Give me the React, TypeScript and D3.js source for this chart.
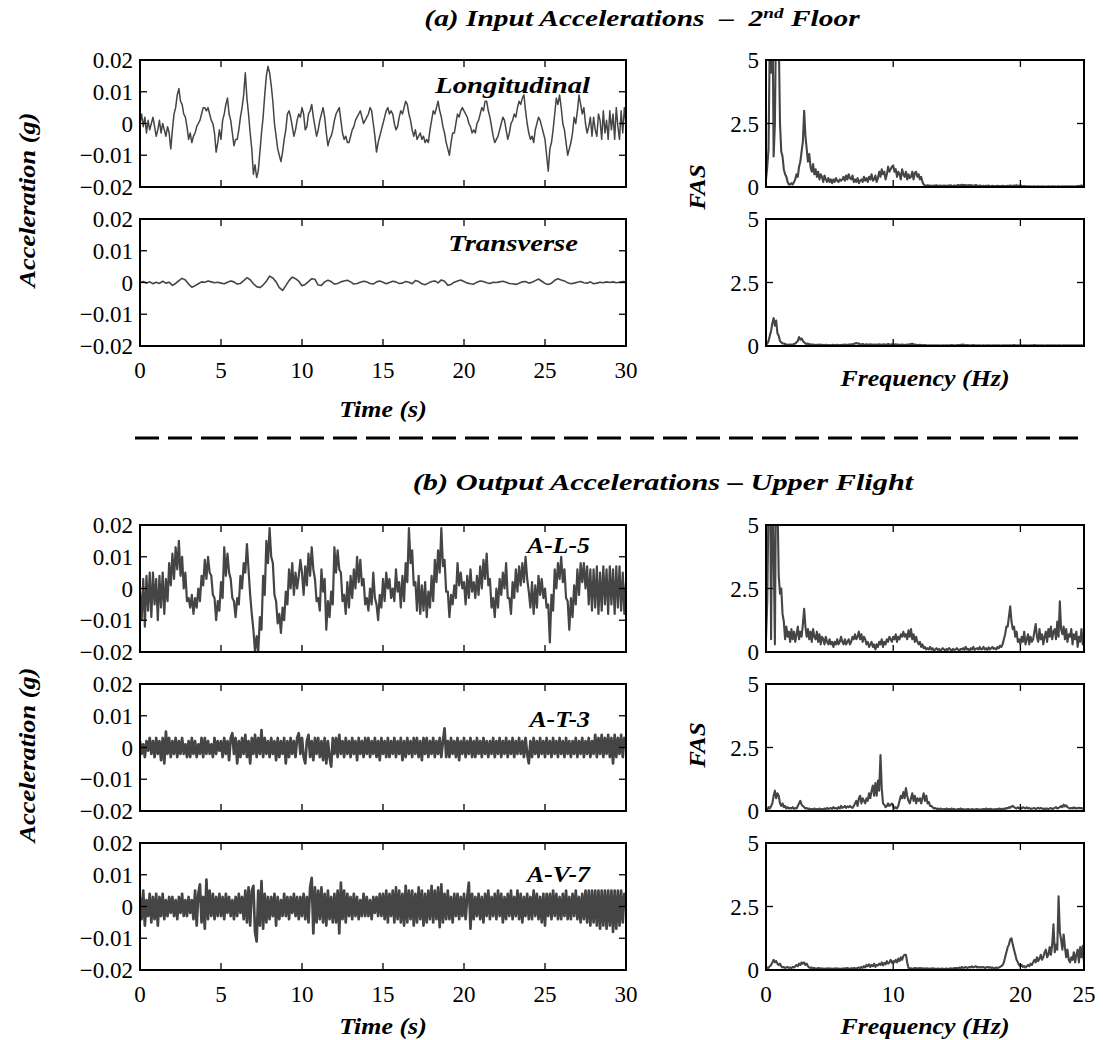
import React from "react";
import * as d3 from "d3";

// ---------- data ----------
// time histories, acceleration in milli-g, sampled every TIME_STEP seconds
const TIME_STEP = 0.1;
const LONG_MG = [
  0, 3, -1, 2, -3, 1, -2, 0, 2, -1,
  -4, -2, 1, -3, 0, -2, -4, -1, -3, -8,
  -2, 3, 5, 9, 11, 7, 6, 3, 2, -1,
  -5, -3, -6, -4, -3, -1, 0, 1, 3, 5,
  5, 4, 5, 3, 1, 0, -3, -9, -6, -2,
  -5, 1, 3, 6, 8, 3, 1, -3, -7, -5,
  -5, -2, 2, 5, 9, 16, 8, 3, -3, -8,
  -16, -13, -17, -15, -9, -3, 2, 9, 15, 18,
  16, 12, 7, 0, -4, -8, -10, -12, -9, -5,
  -2, 3, 4, 2, -1, -4, -2, 1, 3, 2,
  5, 3, -2, -1, 3, 4, 6, 2, -1, -4,
  -2, 1, 3, 5, 2, -3, -7, -5, -4, -2,
  1, 3, 4, 5, 1, -3, -5, -4, -6, -6,
  -4, -2, -1, 1, 2, 3, 4, 2, 0, 1,
  2, 3, 5, 4, 0, -4, -9, -6, -4, -2,
  0, 2, 4, 5, 3, 4, 3, 0, -2, -1,
  2, 4, 3, 5, 7, 6, 3, 1, -2, -4,
  -2, -5, -4, -3, -5, -4, -6, -5, -6, -2,
  1, 4, 3, 5, 7, 4, 2, -1, -3, -6,
  -8, -10, -6, -3, -3, 0, 3, 2, 4, 5,
  4, 3, 2, 0, -1, -3, -2, -3, 0, 1,
  3, 5, 4, 7, 7, 4, 2, -1, -4, -6,
  -5, -4, -2, 0, 2, 1, -2, -5, -3, 0,
  1, 3, 2, 5, 7, 6, 8, 9, 4, 0,
  -3, -5, -4, -6, -2, 0, 2, 1, -1, -3,
  -5, -10, -15, -8, -6, -2, 3, 8, 6, 9,
  5, 0, -2, -6, -10, -8, -6, -3, 2, 0,
  4, 9, 6, 3, 5, 0, -3, -1, 2, -4,
  2, -2, -4, 3, 1, -5, 4, -3, 1, -5,
  4, -2, 3, -5, 5, -1, -5, 4, -3, 5,
  0,
];
const TRANS_STEP = 0.2;
const TRANS_MG = [
  0, 0.3, -0.2, 0.2, -0.4,
  0.1, -0.3, 0.4, -0.2, 0.1,
  -0.9, -0.3, 0.6, 1.3, 0.8,
  -0.5, -1.5, -1.0, -0.4, 0.2,
  0.1, 0.5, 0.2, -0.1, 0.1,
  -0.2, -0.4, 0.1, 0.5, 0.2,
  -0.5, -0.3, 0.6, 1.5, 0.9,
  -0.4, -1.3, -1.6, -0.8, 0.4,
  2.0, 1.4, 0.2, -1.6, -2.5,
  -1.0, 0.6, 1.7, 1.2, 0.4,
  -1.0, -0.6, 0.3, 1.2, 1.0,
  -0.8, -0.9, 0.2, 0.7, 0.3,
  -0.5, -0.3, 0.2, 0.5, 0.7,
  0.2, -0.5, -0.3, 0.1, 0.4,
  0.2, -0.3, -0.5, 0.2, 0.5,
  0.1, -0.4, 0, 0.4, 0.2,
  -0.3, -0.2, 0.3, 0.1, -0.4,
  0.6, 0.3, -0.4, -0.7, -0.2,
  0.3, 0.5, -0.1, 0.8, 0.4,
  -0.9, -0.6, 0.1, 0.5, 0.8,
  0.3, -0.2, -0.4, -0.5, 0.1,
  0.5, 0.3, -0.1, -0.3, 0.1,
  0, 0.2, 0.4, 0.1, -0.3,
  -0.4, -0.6, -0.2, 0.2, 0.3,
  -0.2, 0.1, 0.6, 1.1, 0.4,
  -0.3, -0.6, -0.2, 0.7, 1.2,
  0.8, 0.5, -0.1, -0.4, -0.2,
  0.1, 0.3, -0.1, -0.2, 0.2,
  -0.4, -0.2, 0.1, -0.1, 0.2,
  0, 0.2, -0.1, 0.1, 0.3,
  0.2,
];
const AL5_MG = [
  -1, -10, 3, -12, 4, -7, 5, -9, 5, -5,
  3, -10, 4, -6, 5, -8, 3, -4, 8, 1,
  11, 3, 13, 6, 15, 4, 10, 0, 5, -4,
  -3, -6, -2, -8, -3, -6, 0, -4, 4, 1,
  9, 3, 10, 5, 4, -2, -3, -10, -4, -7,
  2, -3, 13, 4, 11, 5, 3, -3, -4, -9,
  -3, -5, 4, 0, 8, 5, 14, 6, -2, -8,
  -13, -20, -15, -20, -9, -13, 4, -2, 15, 8,
  19, 10, 8, -2, -4, -11, -8, -14, -6, -10,
  -1, -5, 6, 0, 8, -2, 5, 0, 4, 9,
  5, -2, 7, 1, 11, 4, 13, 6, 3, -4,
  -3, -7, 6, -1, 3, -13, -4, -9, -1, -5,
  13, 5, 12, 6, 5, -4, -2, -8, 2, -6,
  4, -3, 6, 0, 10, 2, 9, 1, 3, -5,
  -3, -7, 0, -5, 5, -3, -5, -10, -2, -6,
  3, -4, 5, 0, 3, -3, 0, -4, 6, -1,
  2, -6, 4, -4, 8, 2, 19, 8, 12, 1,
  2, -7, 4, -8, 1, -7, 2, -9, -1, -6,
  4, -4, 9, 2, 12, 5, 19, 7, 9, -1,
  -1, -9, -2, -5, 1, -3, 8, 1, 5, 0,
  2, -5, 4, -3, 6, -1, 2, -3, 4, -2,
  7, 0, 9, 3, 11, 1, 3, -6, -3, -9,
  0, -6, 3, -2, 5, 0, 8, -3, -3, -8,
  2, -3, 6, -1, 7, 1, 8, 2, 10, 3,
  -1, -6, 2, -8, 1, -6, 4, -2, 3, -3,
  0, -6, -5, -17, -2, -7, 6, 0, 8, 3,
  10, 2, 6, -3, -4, -13, -3, -9, 1, -5,
  6, -2, 8, 2, 8, 0, 7, -5, 6, -7,
  6, -6, 7, -8, 5, -7, 7, -5, 6, -8,
  7, -5, 6, -8, 7, -6, 7, -7, 5, -8,
  2,
];
const AT3_MG = [
  2, -2, 1, -3, 2, -1, 3, -2, 2, -3,
  3, -2, 2, -4, 3, -5, 5, -2, 3, -3,
  2, -2, 3, -3, 2, -2, 3, -2, 1, -3,
  2, -3, 3, -2, 2, -3, 1, -2, 3, -3,
  3, -2, 2, -2, 1, -3, 3, -2, 2, -1,
  2, -3, 3, -2, 2, -4, 3, 4.5, -2, 3,
  -5, 2, -3, 3, -2, 4, -3, 2, -5, 3,
  -2, 4, -3, 3, -2, 5.5, -3, 3, -2, 2,
  -3, 3, -2, 2, -4, 3, -3, 2, -2, 3,
  -5, 2, -3, 3, -2, 2, -3, 3, 4.5, -2,
  3, -3, -5, 2, 4, -3, 2, -4, 3, -2,
  3, -3, 2, -4, 3, -5, 2, -3, -6, 3,
  -2, 3, -3, 4, -2, 2, -3, 3, -2, 2,
  -3, 3, -2, 2, -4, 3, -2, 2, -3, 3,
  -2, 3, -3, 2, -2, 3, -3, 2, -4, 3,
  -2, 2, -3, 3, -3, 2, -2, 3, -3, 2,
  -2, 3, -4, 2, -3, 3, -2, 2, -3, 3,
  -2, 3, -3, 2, -4, 3, -2, 3, -3, 2,
  -2, 3, -3, 2, -2, 3, -3, 2, 6, -3,
  2, -3, 3, -2, 2, -3, 3, -4, 2, -2,
  3, -3, 2, -2, 3, -3, 2, -3, 3, -2,
  2, -3, 3, -2, 2, -3, 2, -2, 3, -3,
  2, -2, 3, -3, 2, -2, 3, -3, 2, -2,
  3, -3, 2, -2, 3, -2, 2, -3, 3, -2,
  -5, 2, -3, 3, -2, 2, -3, 3, -2, 2,
  -3, 3, -2, 2, -3, 3, -2, 2, -3, 3,
  -2, 2, -3, 3, -2, 2, -3, 2, -2, 3,
  -3, 2, -2, 3, -3, 2, -2, 3, -3, 2,
  -2, 4, -3, 3, -2, 4, -3, 3, -2, 4,
  -3, 3, -5, 4, -3, 3, -2, 4, -3, 3,
  0,
];
const AV7_MG = [
  3, -4, 5, -6, 2, -3, 4, -5, 3, -4,
  4, -6, 3, -3, 4, -4, 2, -3, 3, -2,
  3, -3, 2, -4, 3, -2, 4, -3, 2, -3,
  3, -2, 2, -4, 5, -6, 4, 7, -5, 3,
  -7, 8.5, -4, 5, -3, 4, -4, 3, -3, 4,
  -3, 3, -4, 4, -2, 3, -3, 2, -4, 3,
  -3, 4, -2, 3, -4, 5, -5, 6, -6, 5,
  6.5, -8, -11, 5, -6, 8, -7, 4, -5, 3,
  -4, 3, -3, 4, -6, 3, -4, 2, -3, 4,
  -3, 3, -4, 3, -2, 4, -3, 3, -4, 3,
  -3, 4, -4, 3, -5, 6, 9, -8.5, 6, -5,
  5, -4, 6, -5, 4, -6, 5, -4, 3, -5,
  4, -5, 5, -8.5, 7.5, -4, 5, -5, 4, -3,
  3, -4, 4, -3, 3, -4, 2, -3, 4, -3,
  3, -3, 2, -4, 3, -2, 3, -3, 4, -3,
  4, -4, 5, -5, 4, -3, 5, -5, 6, -4,
  5, -5, 4, -6, 6.5, -5, 5, -4, 5, -6,
  4, -5, 6, -4, 5, -6, 4, -5, 5, -4,
  6.5, -5, 5, -4, 6, -6.5, 7, -5, 4, -4,
  5, -4, 3, -5, 4, -3, 4, -4, 3, -3,
  4, -4, 3, 7.5, -7, 4, -4, 3, -3, 4,
  -4, 3, -5, 4, -3, 5, -4, 3, -3, 4,
  -4, 5, -3, 4, -5, 3, -4, 4, -3, 5,
  -4, 3, -3, 5, -4, 4, -5, 3, -3, 4,
  -4, 3, -4, 5, -3, 4, -4, 3, -5, 4,
  -6, 4, -3, 4, -4, 5, -3, 4, -4, 3,
  -4, 4, -3, 5, -4, 3, -4, 4, -3, 5,
  -4, 3, -5, 4, -4, 5, -5, 5, -6, 5,
  -5, 5, -6, 5, -7, 5, -6, 5, -7, 5,
  -6, 5, -8, 5, -7, 5, -6, 5, -5, 4,
  0,
];

// Fourier amplitude spectra, sampled every FREQ_STEP Hz from 0 to 25 Hz
const FREQ_STEP = 0.1;
const FAS_LONG = [
  0.3, 0.8, 1.5, 6, 4.5, 8, 1.2, 2.5, 7, 9,
  6, 2.5, 1.4, 1.2, 0.7, 0.5, 0.4, 0.2, 0.1, 0.1,
  0.15, 0.1, 0.2, 0.3, 0.5, 0.4, 0.8, 1.0, 1.4, 1.8,
  3.0, 2.0, 1.5, 1.0, 1.3, 0.8, 0.6, 0.9, 0.5, 0.7,
  0.4, 0.6, 0.3, 0.5, 0.4, 0.2, 0.45, 0.3, 0.2, 0.35,
  0.2, 0.3, 0.15, 0.3, 0.2, 0.35, 0.25, 0.2, 0.3, 0.25,
  0.3, 0.4, 0.25, 0.45, 0.3, 0.5, 0.35, 0.3, 0.45, 0.2,
  0.3, 0.2, 0.35, 0.15, 0.25, 0.3, 0.2, 0.4, 0.25, 0.35,
  0.2, 0.4, 0.3, 0.5, 0.25, 0.3, 0.45, 0.2, 0.35, 0.6,
  0.4, 0.7, 0.5, 0.6, 0.3, 0.5, 0.8, 0.6, 0.7, 0.8,
  0.85, 0.6, 0.7, 0.4, 0.6, 0.5, 0.3, 0.7, 0.5, 0.4,
  0.6, 0.3, 0.5, 0.35, 0.4, 0.6, 0.3, 0.55, 0.6, 0.4,
  0.5, 0.3, 0.4, 0.2, 0.1, 0.06, 0.05, 0.07, 0.04, 0.06,
  0.05, 0.04, 0.06, 0.05, 0.07, 0.04, 0.05, 0.06, 0.04, 0.05,
  0.06, 0.05, 0.04, 0.06, 0.05, 0.07, 0.05, 0.04, 0.06, 0.05,
  0.06, 0.08, 0.05, 0.07, 0.09, 0.06, 0.08, 0.05, 0.07, 0.06,
  0.08, 0.06, 0.07, 0.05, 0.06, 0.08, 0.05, 0.04, 0.06, 0.05,
  0.04, 0.05, 0.03, 0.05, 0.04, 0.06, 0.04, 0.03, 0.05, 0.04,
  0.03, 0.04, 0.05, 0.03, 0.04, 0.03, 0.05, 0.04, 0.03, 0.04,
  0.05, 0.04, 0.06, 0.05, 0.04, 0.06, 0.05, 0.07, 0.04, 0.05,
  0.06, 0.04, 0.03, 0.04, 0.03, 0.02, 0.03, 0.02, 0.03, 0.02,
  0.02, 0.03, 0.02, 0.02, 0.03, 0.02, 0.02, 0.03, 0.02, 0.02,
  0.02, 0.02, 0.03, 0.02, 0.02, 0.03, 0.02, 0.03, 0.02, 0.02,
  0.03, 0.02, 0.02, 0.03, 0.02, 0.03, 0.02, 0.03, 0.02, 0.03,
  0.02, 0.03, 0.02, 0.02, 0.03, 0.04, 0.03, 0.05, 0.06, 0.04,
  0.05,
];
const FAS_TRANS = [
  0.05, 0.1, 0.2, 0.4, 0.6, 0.9, 1.1, 0.8, 1.0, 0.5,
  0.4, 0.2, 0.15, 0.1, 0.1, 0.08, 0.06, 0.05, 0.06, 0.05,
  0.06, 0.05, 0.08, 0.1, 0.15, 0.2, 0.35, 0.25, 0.3, 0.2,
  0.15, 0.1, 0.08, 0.1, 0.06, 0.07, 0.05, 0.06, 0.05, 0.04,
  0.05, 0.04, 0.06, 0.04, 0.05, 0.04, 0.03, 0.05, 0.04, 0.03,
  0.04, 0.03, 0.04, 0.05, 0.03, 0.04, 0.05, 0.04, 0.03, 0.04,
  0.05, 0.04, 0.06, 0.05, 0.04, 0.06, 0.05, 0.07, 0.06, 0.08,
  0.1, 0.12, 0.09, 0.1, 0.07, 0.06, 0.08, 0.06, 0.05, 0.07,
  0.06, 0.05, 0.07, 0.06, 0.05, 0.06, 0.04, 0.06, 0.05, 0.07,
  0.05, 0.06, 0.04, 0.07, 0.05, 0.06, 0.08, 0.05, 0.06, 0.07,
  0.06, 0.05, 0.07, 0.05, 0.06, 0.04, 0.05, 0.06, 0.05, 0.04,
  0.05, 0.06, 0.05, 0.07, 0.08, 0.09, 0.07, 0.06, 0.05, 0.04,
  0.04, 0.05, 0.03, 0.04, 0.03, 0.04, 0.03, 0.02, 0.03, 0.02,
  0.03, 0.02, 0.03, 0.02, 0.03, 0.02, 0.03, 0.02, 0.02, 0.03,
  0.02, 0.03, 0.02, 0.03, 0.02, 0.03, 0.04, 0.03, 0.02, 0.03,
  0.03, 0.04, 0.03, 0.05, 0.04, 0.06, 0.04, 0.03, 0.04, 0.03,
  0.03, 0.02, 0.03, 0.04, 0.03, 0.02, 0.03, 0.02, 0.03, 0.02,
  0.02, 0.03, 0.02, 0.02, 0.03, 0.02, 0.03, 0.02, 0.02, 0.03,
  0.02, 0.03, 0.02, 0.03, 0.02, 0.02, 0.03, 0.02, 0.03, 0.02,
  0.03, 0.02, 0.03, 0.02, 0.03, 0.04, 0.03, 0.02, 0.03, 0.02,
  0.02, 0.03, 0.02, 0.03, 0.02, 0.03, 0.02, 0.02, 0.03, 0.02,
  0.03, 0.04, 0.03, 0.02, 0.03, 0.02, 0.03, 0.02, 0.03, 0.02,
  0.02, 0.03, 0.02, 0.03, 0.02, 0.03, 0.02, 0.03, 0.02, 0.03,
  0.02, 0.03, 0.02, 0.02, 0.03, 0.02, 0.03, 0.02, 0.03, 0.02,
  0.03, 0.02, 0.03, 0.02, 0.03, 0.02, 0.03, 0.02, 0.03, 0.02,
  0.03,
];
const FAS_AL5 = [
  0.5, 2.0, 6, 9, 0.5, 7, 4, 0.3, 8, 6,
  3.0, 2.3, 2.5, 1.5, 1.2, 0.5, 1.0, 0.6, 0.8, 0.4,
  0.9, 0.5, 0.8, 0.4, 0.7, 1.0, 0.5, 0.8, 0.6, 1.1,
  1.7, 1.0, 0.6, 0.9, 0.5, 0.8, 0.4, 0.9, 0.6, 0.5,
  0.8, 0.4, 0.7, 0.3, 0.6, 0.5, 0.3, 0.6, 0.4, 0.3,
  0.5, 0.3, 0.4, 0.2, 0.4, 0.3, 0.5, 0.3, 0.4, 0.6,
  0.4, 0.3, 0.5, 0.3, 0.4, 0.5, 0.3, 0.4, 0.6, 0.5,
  0.7, 0.5, 0.6, 0.8, 0.5, 0.7, 0.4, 0.6, 0.5, 0.3,
  0.4, 0.2, 0.3, 0.4, 0.2, 0.3, 0.1, 0.3, 0.2, 0.4,
  0.3, 0.5, 0.2, 0.4, 0.3, 0.5, 0.4, 0.6, 0.5, 0.4,
  0.6, 0.5, 0.7, 0.4, 0.6, 0.5, 0.7, 0.6, 0.8, 0.6,
  0.7, 0.5, 0.85, 0.6, 0.9, 0.5, 0.7, 0.4, 0.6, 0.4,
  0.3, 0.4, 0.2, 0.3, 0.15, 0.2, 0.1, 0.15, 0.1, 0.2,
  0.1, 0.15, 0.05, 0.1, 0.15, 0.08, 0.12, 0.05, 0.1, 0.15,
  0.1, 0.05, 0.12, 0.08, 0.15, 0.1, 0.05, 0.12, 0.08, 0.1,
  0.15, 0.1, 0.05, 0.12, 0.1, 0.15, 0.08, 0.2, 0.1, 0.12,
  0.05, 0.15, 0.1, 0.2, 0.08, 0.12, 0.15, 0.1, 0.2, 0.1,
  0.12, 0.2, 0.1, 0.15, 0.08, 0.18, 0.1, 0.15, 0.2, 0.12,
  0.15, 0.1, 0.2, 0.15, 0.25, 0.2, 0.3, 0.5, 0.7, 1.0,
  1.0, 1.4, 1.8, 1.2, 0.9, 1.0, 0.6, 0.8, 0.4, 0.5,
  0.3, 0.6, 0.4, 0.8, 0.3, 0.5, 0.7, 0.3, 0.6, 0.4,
  0.5, 0.8, 1.1, 0.6, 0.4, 0.9, 0.5, 0.7, 0.3, 0.6,
  0.8, 0.4, 0.9, 0.6, 1.0, 0.5, 0.8, 0.9, 0.5, 1.2,
  0.6, 2.0, 0.9, 0.7, 1.0, 0.5, 0.9, 0.4, 0.7, 0.6,
  0.9, 0.3, 0.7, 0.5, 0.8, 0.2, 0.6, 0.4, 0.9, 0.3,
  0.4,
];
const FAS_AT3 = [
  0.1, 0.05, 0.15, 0.1, 0.2, 0.3, 0.6, 0.8, 0.5, 0.7,
  0.6, 0.3, 0.2, 0.3, 0.15, 0.2, 0.1, 0.15, 0.1, 0.12,
  0.1, 0.15, 0.08, 0.12, 0.1, 0.2, 0.3, 0.4, 0.25, 0.2,
  0.15, 0.1, 0.12, 0.08, 0.1, 0.05, 0.08, 0.06, 0.1, 0.05,
  0.08, 0.05, 0.1, 0.06, 0.08, 0.05, 0.1, 0.07, 0.12, 0.08,
  0.1, 0.12, 0.08, 0.15, 0.1, 0.12, 0.08, 0.15, 0.1, 0.2,
  0.12, 0.15, 0.2, 0.12, 0.18, 0.15, 0.2, 0.15, 0.12, 0.2,
  0.3, 0.4, 0.2, 0.5, 0.6, 0.3, 0.5, 0.4, 0.3, 0.5,
  0.4, 0.7, 0.5, 0.8, 1.0, 0.6, 1.1, 0.6, 1.2, 0.8,
  2.2, 0.9, 0.3, 0.25, 0.15, 0.2, 0.3, 0.2, 0.25, 0.3,
  0.2, 0.1, 0.15, 0.1, 0.2, 0.4, 0.6, 0.5, 0.75, 0.5,
  0.9, 0.6, 0.4, 0.3, 0.5, 0.7, 0.4, 0.6, 0.3, 0.5,
  0.4, 0.5, 0.3, 0.5, 0.7, 0.4, 0.6, 0.3, 0.35, 0.2,
  0.2, 0.15, 0.1, 0.12, 0.08, 0.1, 0.06, 0.1, 0.08, 0.05,
  0.08, 0.06, 0.1, 0.05, 0.08, 0.06, 0.1, 0.05, 0.08, 0.06,
  0.05, 0.08, 0.06, 0.1, 0.05, 0.08, 0.04, 0.07, 0.05, 0.08,
  0.06, 0.05, 0.08, 0.04, 0.07, 0.05, 0.08, 0.06, 0.04, 0.07,
  0.05, 0.08, 0.06, 0.1, 0.05, 0.08, 0.06, 0.09, 0.05, 0.07,
  0.06, 0.08, 0.05, 0.1, 0.07, 0.09, 0.06, 0.1, 0.08, 0.12,
  0.1, 0.15, 0.12, 0.18, 0.2, 0.15, 0.12, 0.1, 0.14, 0.1,
  0.12, 0.1, 0.15, 0.12, 0.1, 0.14, 0.1, 0.12, 0.08, 0.1,
  0.1, 0.12, 0.08, 0.1, 0.13, 0.09, 0.12, 0.1, 0.08, 0.1,
  0.08, 0.1, 0.07, 0.1, 0.12, 0.08, 0.1, 0.12, 0.15, 0.1,
  0.12, 0.15, 0.2, 0.15, 0.25, 0.18, 0.22, 0.15, 0.12, 0.1,
  0.12, 0.1, 0.14, 0.1, 0.12, 0.1, 0.13, 0.1, 0.12, 0.1,
  0.1,
];
const FAS_AV7 = [
  0.05, 0.1, 0.08, 0.15, 0.2, 0.3, 0.4, 0.3, 0.35, 0.25,
  0.2, 0.25, 0.15, 0.1, 0.12, 0.08, 0.1, 0.12, 0.08, 0.1,
  0.08, 0.12, 0.1, 0.15, 0.2, 0.15, 0.25, 0.2, 0.3, 0.25,
  0.3, 0.2, 0.25, 0.15, 0.1, 0.08, 0.1, 0.06, 0.08, 0.05,
  0.06, 0.08, 0.05, 0.07, 0.05, 0.06, 0.04, 0.06, 0.05, 0.07,
  0.05, 0.06, 0.04, 0.06, 0.05, 0.07, 0.05, 0.06, 0.04, 0.05,
  0.06, 0.05, 0.07, 0.05, 0.08, 0.06, 0.05, 0.07, 0.06, 0.08,
  0.07, 0.06, 0.08, 0.1, 0.07, 0.12, 0.08, 0.15, 0.1, 0.2,
  0.15, 0.22, 0.12, 0.2, 0.15, 0.25, 0.12, 0.2, 0.18, 0.25,
  0.2, 0.3, 0.18, 0.28, 0.22, 0.35, 0.25, 0.3, 0.4, 0.28,
  0.35, 0.3, 0.4, 0.3, 0.45, 0.35, 0.5, 0.4, 0.55, 0.6,
  0.6, 0.3, 0.08, 0.05, 0.07, 0.05, 0.06, 0.08, 0.05, 0.07,
  0.06, 0.08, 0.05, 0.07, 0.06, 0.05, 0.07, 0.06, 0.05, 0.06,
  0.05, 0.07, 0.06, 0.05, 0.04, 0.06, 0.05, 0.04, 0.06, 0.05,
  0.04, 0.05, 0.06, 0.04, 0.05, 0.07, 0.05, 0.06, 0.08, 0.06,
  0.08, 0.06, 0.1, 0.07, 0.12, 0.08, 0.1, 0.12, 0.08, 0.1,
  0.12, 0.1, 0.14, 0.1, 0.12, 0.15, 0.1, 0.12, 0.09, 0.12,
  0.1, 0.12, 0.08, 0.1, 0.12, 0.09, 0.11, 0.08, 0.1, 0.07,
  0.08, 0.1, 0.07, 0.1, 0.12, 0.15, 0.2, 0.3, 0.5, 0.7,
  0.9, 1.0, 1.2, 1.25, 1.0, 0.8, 0.6, 0.4, 0.3, 0.2,
  0.15, 0.2, 0.12, 0.15, 0.1, 0.15, 0.2, 0.15, 0.25, 0.2,
  0.3, 0.4, 0.3, 0.5, 0.35, 0.45, 0.6, 0.4, 0.5, 0.7,
  0.8, 0.5, 0.6, 0.9, 0.6, 1.0, 1.8, 0.7, 1.0, 0.8,
  2.9, 1.5, 1.2, 0.8, 1.4, 0.9, 0.5, 0.8, 0.4, 0.3,
  0.5, 0.4, 0.7, 0.3, 0.6, 0.8, 0.3, 0.9, 0.5, 0.95,
  0.3,
];

// axes
const ACC_DOMAIN = [-0.02, 0.02];
const ACC_TICKS = [-0.02, -0.01, 0, 0.01, 0.02];
const TIME_DOMAIN = [0, 30];
const TIME_TICKS = [0, 5, 10, 15, 20, 25, 30];
const FAS_DOMAIN = [0, 5];
const FAS_TICKS = [0, 2.5, 5];
const FREQ_DOMAIN = [0, 25];
const FREQ_TICKS = [0, 10, 20, 25];

// ---------- layout ----------
const W = 1103;
const H = 1040;
const FONT = "'Liberation Serif', 'Times New Roman', Times, serif";
const INK = "#454545";
const LEFT = [140, 626];
const RIGHT = [766, 1084];
const ROWS_A = [[60, 187], [219, 346]];
const ROWS_B = [[525, 652], [684, 811], [843, 970]];
const TICK = 7;
const TICK_FS = 23;

const fmtAcc = (d) => (d === 0 ? "0" : (d < 0 ? "\u2212" : "") + Math.abs(d).toFixed(2));

function BI({ x, y, sx = 1, rot = 0, size = 24, anchor = "middle", children }) {
  return (
    <text
      transform={`translate(${x},${y})${rot ? ` rotate(${rot})` : ""} scale(${sx},1)`}
      textAnchor={anchor}
      fontSize={size}
      fontFamily={FONT}
      fontWeight="bold"
      fontStyle="italic"
    >
      {children}
    </text>
  );
}

function Frame({ x0, x1, y0, y1 }) {
  return <rect x={x0} y={y0} width={x1 - x0} height={y1 - y0} fill="none" stroke="#000" strokeWidth={2} />;
}

function TimePanel({ id, row, data, step, label, labelRight, labelBase, labelSx, showX, width }) {
  const [y0, y1] = row;
  const [x0, x1] = LEFT;
  const xs = d3.scaleLinear().domain(TIME_DOMAIN).range([x0, x1]);
  const ys = d3.scaleLinear().domain(ACC_DOMAIN).range([y1, y0]);
  const line = d3.line().x((_, i) => xs(i * step)).y((d) => ys(d * 0.001));
  return (
    <g>
      <clipPath id={id}><rect x={x0} y={y0} width={x1 - x0} height={y1 - y0} /></clipPath>
      <path d={line(data)} fill="none" stroke={INK} strokeWidth={width} strokeLinejoin="round" clipPath={`url(#${id})`} />
      {TIME_TICKS.filter((t) => t > 0 && t < 30).map((t) => (
        <g key={"xt" + t}>
          <line x1={xs(t)} x2={xs(t)} y1={y1} y2={y1 - TICK} stroke="#000" strokeWidth={1.3} />
          <line x1={xs(t)} x2={xs(t)} y1={y0} y2={y0 + TICK} stroke="#000" strokeWidth={1.3} />
        </g>
      ))}
      {ACC_TICKS.map((v) => (
        <g key={"yt" + v}>
          <line x1={x0} x2={x0 + TICK} y1={ys(v)} y2={ys(v)} stroke="#000" strokeWidth={1.3} />
          <line x1={x1} x2={x1 - TICK} y1={ys(v)} y2={ys(v)} stroke="#000" strokeWidth={1.3} />
          <text x={x0 - 7} y={ys(v)} dy="0.35em" textAnchor="end" fontSize={TICK_FS} fontFamily={FONT}>{fmtAcc(v)}</text>
        </g>
      ))}
      {showX && TIME_TICKS.map((t) => (
        <text key={"xl" + t} x={xs(t)} y={y1 + 32} textAnchor="middle" fontSize={TICK_FS} fontFamily={FONT}>{t}</text>
      ))}
      <Frame x0={x0} x1={x1} y0={y0} y1={y1} />
      <BI x={labelRight} y={labelBase} sx={labelSx} size={23} anchor="end">{label}</BI>
    </g>
  );
}

function FasPanel({ id, row, data, showX }) {
  const [y0, y1] = row;
  const [x0, x1] = RIGHT;
  const xs = d3.scaleLinear().domain(FREQ_DOMAIN).range([x0, x1]);
  const ys = d3.scaleLinear().domain(FAS_DOMAIN).range([y1, y0]);
  const line = d3.line().x((_, i) => xs(i * FREQ_STEP)).y((d) => ys(d));
  return (
    <g>
      <clipPath id={id}><rect x={x0} y={y0} width={x1 - x0} height={y1 - y0} /></clipPath>
      <path d={line(data)} fill="none" stroke={INK} strokeWidth={2.1} strokeLinejoin="round" clipPath={`url(#${id})`} />
      {FREQ_TICKS.filter((f) => f > 0 && f < 25).map((f) => (
        <g key={"xt" + f}>
          <line x1={xs(f)} x2={xs(f)} y1={y1} y2={y1 - TICK} stroke="#000" strokeWidth={1.3} />
          <line x1={xs(f)} x2={xs(f)} y1={y0} y2={y0 + TICK} stroke="#000" strokeWidth={1.3} />
        </g>
      ))}
      {FAS_TICKS.map((v) => (
        <g key={"yt" + v}>
          <line x1={x0} x2={x0 + TICK} y1={ys(v)} y2={ys(v)} stroke="#000" strokeWidth={1.3} />
          <line x1={x1} x2={x1 - TICK} y1={ys(v)} y2={ys(v)} stroke="#000" strokeWidth={1.3} />
          <text x={x0 - 7} y={ys(v)} dy="0.35em" textAnchor="end" fontSize={TICK_FS} fontFamily={FONT}>{String(v)}</text>
        </g>
      ))}
      {showX && FREQ_TICKS.map((f) => (
        <text key={"xl" + f} x={xs(f)} y={y1 + 32} textAnchor="middle" fontSize={TICK_FS} fontFamily={FONT}>{f}</text>
      ))}
      <Frame x0={x0} x1={x1} y0={y0} y1={y1} />
    </g>
  );
}

export default function App() {
  const nb = "\u00a0";
  return (
    <svg width={W} height={H} viewBox={`0 0 ${W} ${H}`} style={{ position: "absolute", left: 0, top: 0, background: "#fff" }}>
      <defs>
        <filter id="shadow" x="-5%" y="-300%" width="110%" height="700%">
          <feGaussianBlur stdDeviation="1.8" />
        </filter>
      </defs>
      <rect x={0} y={0} width={W} height={H} fill="#fff" />

      {/* (a) title */}
      <BI x={642} y={26} sx={1.28} size={23}>
        {`(a) Input Accelerations${nb}${nb}\u2013${nb}${nb}2`}
        <tspan dy={-8} fontSize={15}>nd</tspan>
        <tspan dy={8}>{`${nb}Floor`}</tspan>
      </BI>

      <TimePanel id="c1" row={ROWS_A[0]} data={LONG_MG} step={TIME_STEP} label="Longitudinal" labelRight={590} labelBase={93} labelSx={1.25} showX={false} width={1.5} />
      <TimePanel id="c2" row={ROWS_A[1]} data={TRANS_MG} step={TRANS_STEP} label="Transverse" labelRight={578} labelBase={251} labelSx={1.25} showX={true} width={1.6} />
      <FasPanel id="c3" row={ROWS_A[0]} data={FAS_LONG} showX={false} />
      <FasPanel id="c4" row={ROWS_A[1]} data={FAS_TRANS} showX={false} />

      <BI x={35} y={200} rot={-90} sx={1.1}>Acceleration (g)</BI>
      <BI x={705} y={187} rot={-90} sx={1.05}>FAS</BI>
      <BI x={383} y={417} sx={1.08}>Time (s)</BI>
      <BI x={925} y={386} sx={1.08}>Frequency (Hz)</BI>

      {/* separator */}
      <line x1={135} x2={1078} y1={441} y2={441} stroke="#999" strokeWidth={3} strokeDasharray="24 9" filter="url(#shadow)" />
      <line x1={135} x2={1078} y1={438} y2={438} stroke="#000" strokeWidth={3} strokeDasharray="24 9" />

      {/* (b) title */}
      <BI x={663} y={490} sx={1.32} size={23}>(b) Output Accelerations – Upper Flight</BI>

      <TimePanel id="c5" row={ROWS_B[0]} data={AL5_MG} step={TIME_STEP} label="A-L-5" labelRight={590} labelBase={553} labelSx={1.12} showX={false} width={2.2} />
      <TimePanel id="c6" row={ROWS_B[1]} data={AT3_MG} step={TIME_STEP} label="A-T-3" labelRight={590} labelBase={727} labelSx={1.12} showX={false} width={2.7} />
      <TimePanel id="c7" row={ROWS_B[2]} data={AV7_MG} step={TIME_STEP} label="A-V-7" labelRight={590} labelBase={882} labelSx={1.12} showX={true} width={2.7} />
      <FasPanel id="c8" row={ROWS_B[0]} data={FAS_AL5} showX={false} />
      <FasPanel id="c9" row={ROWS_B[1]} data={FAS_AT3} showX={false} />
      <FasPanel id="c10" row={ROWS_B[2]} data={FAS_AV7} showX={true} />

      <BI x={35} y={755} rot={-90} sx={1.1}>Acceleration (g)</BI>
      <BI x={705} y={745} rot={-90} sx={1.05}>FAS</BI>
      <BI x={383} y={1034} sx={1.08}>Time (s)</BI>
      <BI x={925} y={1034} sx={1.08}>Frequency (Hz)</BI>
    </svg>
  );
}
